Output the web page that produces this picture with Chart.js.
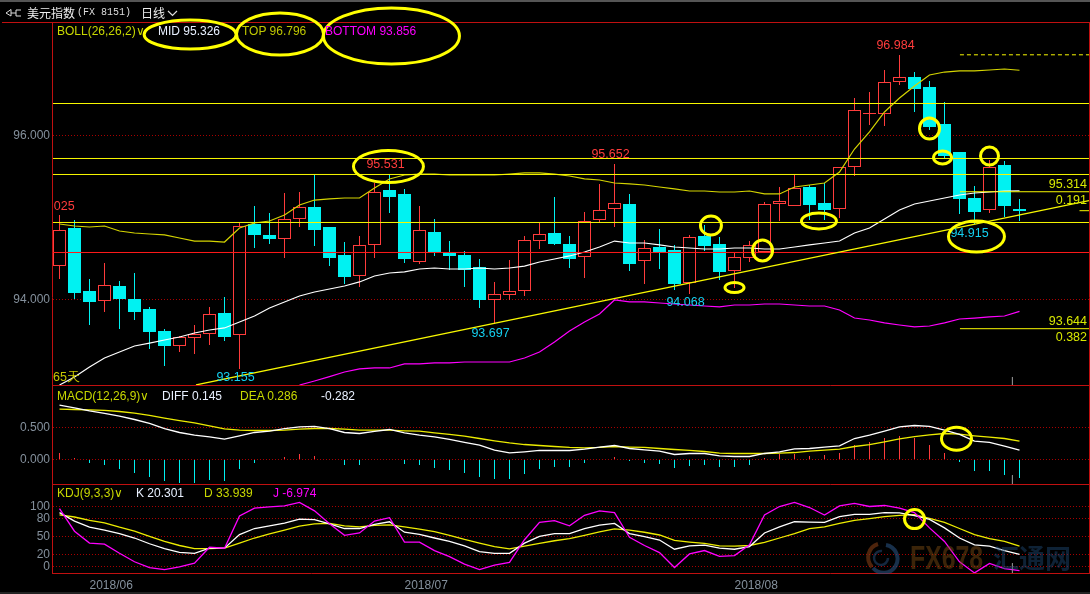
<!DOCTYPE html>
<html>
<head>
<meta charset="utf-8">
<title>美元指数</title>
<script src="https://cdn.jsdelivr.net/npm/chart.js@4/dist/chart.umd.min.js"></script>
<style>
html,body{margin:0;padding:0;background:#000;overflow:hidden}
#wrap{position:relative;width:1090px;height:594px;background:#000;overflow:hidden}
canvas{position:absolute;left:0;top:0}
.t{position:absolute;white-space:pre;font:12px/14px "Liberation Sans",Arial,sans-serif}
.wm{position:absolute;white-space:pre;font-weight:bold}
</style>
</head>
<body>
<div id="wrap">
<canvas id="c" width="1090" height="594"></canvas>
<div style="position:absolute;left:0;top:0;width:1090px;height:2px;background:#555"></div>
<div style="position:absolute;left:0;top:592px;width:1090px;height:2px;background:#222"></div>
<svg style="position:absolute;left:5px;top:8px" width="18" height="10"><path d="M1 5 L6 1.5 L6 8 Z M16 2 L11 2 L11 8 L16 8 M6 5 L11 5" fill="none" stroke="#ddd"/></svg>
<div class="t" style="left:27px;top:6px;color:#eee;font-family:'Noto Sans CJK SC'">美元指数</div>
<div class="t" style="left:77px;top:6px;color:#ddd;font-family:'Liberation Mono';font-size:10px">(FX 8151)</div>
<div class="t" style="left:141px;top:6px;color:#eee;font-family:'Noto Sans CJK SC'">日线</div>
<svg style="position:absolute;left:167px;top:10px" width="11" height="7"><path d="M1 1 L5.5 5.5 L10 1" fill="none" stroke="#ddd" stroke-width="1.2"/></svg>

<div class="t" style="left:57px;top:24px;color:#c8d800">BOLL(26,26,2)∨</div>
<div class="t" style="left:158px;top:24px;color:#e8f0ff">MID 95.326</div>
<div class="t" style="left:242px;top:24px;color:#c0c800">TOP 96.796</div>
<div class="t" style="left:325px;top:24px;color:#ff00ff">BOTTOM 93.856</div>

<div class="t" style="left:57px;top:389px;color:#c8d800">MACD(12,26,9)∨</div>
<div class="t" style="left:162px;top:389px;color:#e8f0ff">DIFF 0.145</div>
<div class="t" style="left:240px;top:389px;color:#c8d800">DEA 0.286</div>
<div class="t" style="left:321px;top:389px;color:#e8f0ff">-0.282</div>

<div class="t" style="left:57px;top:486px;color:#c8d800">KDJ(9,3,3)∨</div>
<div class="t" style="left:136px;top:486px;color:#e8f0ff">K 20.301</div>
<div class="t" style="left:204px;top:486px;color:#c8d800">D 33.939</div>
<div class="t" style="left:273px;top:486px;color:#ff00ff">J -6.974</div>

<div class="t" style="left:53px;top:370px;color:#c8c800;font-size:12.5px">65天</div>
<div class="t" style="right:3px;top:177px;color:#d8e800;font-size:12.5px">95.314</div>
<div class="t" style="right:3px;top:193px;color:#d8e800;font-size:12.5px">0.191</div>
<div class="t" style="right:3px;top:314px;color:#d8e800;font-size:12.5px">93.644</div>
<div class="t" style="right:3px;top:330px;color:#d8e800;font-size:12.5px">0.382</div>

<svg style="position:absolute;left:864px;top:542px" width="36" height="32"><path d="M22 3 A14 14 0 1 1 9 26" fill="none" stroke="rgba(40,80,125,.6)" stroke-width="4"/><path d="M14 2 A14 14 0 0 0 8 25" fill="none" stroke="rgba(130,60,20,.6)" stroke-width="4"/><path d="M18 9 A7 7 0 1 0 24 16" fill="none" stroke="rgba(40,80,125,.5)" stroke-width="2.5"/></svg>
<div class="wm" style="left:910px;top:538px;font:bold 34px/38px 'Liberation Sans';color:rgba(130,80,20,.45);transform:scaleX(.73);transform-origin:left top">FX678</div>
<div class="wm" style="left:993px;top:540px;font:bold 26px/34px 'Noto Sans CJK SC';color:rgba(30,75,120,.45)">汇通网</div>
</div>

<script>
// daily candles, 65 days
var opens = [94.412,94.876,94.104,93.985,94.165,94.006,93.884,93.616,93.437,93.534,93.583,93.836,93.571,94.921,94.787,94.741,94.985,95.128,94.884,94.543,94.287,94.668,95.335,95.287,94.461,94.823,94.567,94.543,94.396,93.998,94.059,94.108,94.717,94.811,94.677,94.515,94.973,95.107,95.165,94.473,94.640,94.604,94.201,94.774,94.677,94.351,94.510,94.579,95.168,95.144,95.372,95.177,95.107,95.612,96.262,96.259,96.656,96.713,96.591,96.140,95.799,95.238,95.091,95.640,95.104];
var closes = [94.844,94.079,93.969,94.173,94.006,93.848,93.604,93.433,93.539,93.579,93.820,93.543,94.893,94.787,94.738,94.978,95.124,94.848,94.506,94.274,94.665,95.307,95.250,94.494,94.844,94.579,94.531,94.360,93.994,94.064,94.100,94.722,94.795,94.677,94.494,94.954,95.088,95.173,94.433,94.624,94.579,94.189,94.759,94.652,94.335,94.515,94.661,95.161,95.198,95.356,95.152,95.091,95.612,96.307,96.271,96.649,96.710,96.567,96.104,95.750,95.226,95.067,95.612,95.140,95.079];
var highs = [95.025,94.970,94.250,94.445,94.226,94.323,93.909,93.640,93.555,93.689,93.909,94.031,94.933,95.140,95.055,95.299,95.311,95.518,94.884,94.701,94.774,95.421,95.531,95.348,95.140,94.982,94.713,94.592,94.494,94.213,94.482,94.774,94.933,95.250,94.774,95.067,95.409,95.652,95.287,94.726,94.860,94.665,94.787,94.909,94.762,94.571,94.713,95.189,95.372,95.518,95.396,95.421,95.616,96.457,96.530,96.799,96.984,96.774,96.665,96.409,95.799,95.384,95.701,95.689,95.226];
var lows = [94.250,94.006,93.689,93.848,93.640,93.750,93.396,93.189,93.360,93.336,93.445,93.494,93.155,94.628,94.677,94.506,94.888,94.652,94.409,94.189,94.153,94.506,95.055,94.445,94.433,94.531,94.360,94.153,93.896,93.697,93.994,94.046,94.616,94.665,94.384,94.262,94.937,94.884,94.348,94.189,94.372,94.116,94.068,94.592,94.238,94.140,94.457,94.567,94.957,95.144,94.970,94.970,94.994,95.506,96.128,96.116,96.616,96.287,96.067,95.726,95.043,94.915,95.055,95.006,94.957];

// BOLL(26,26,2)
var bollTop = [94.921,94.896,94.884,94.896,94.835,94.811,94.799,94.787,94.750,94.713,94.713,94.701,94.872,94.933,94.957,95.031,95.152,95.213,95.226,95.238,95.238,95.360,95.470,95.518,95.530,95.530,95.518,95.518,95.518,95.518,95.530,95.543,95.543,95.530,95.506,95.470,95.457,95.421,95.409,95.396,95.372,95.348,95.323,95.323,95.311,95.311,95.323,95.287,95.287,95.372,95.396,95.421,95.555,95.835,96.043,96.287,96.457,96.604,96.738,96.774,96.787,96.787,96.799,96.811,96.796];
var bollMid = [92.957,93.055,93.177,93.287,93.360,93.433,93.469,93.506,93.543,93.591,93.628,93.653,93.726,93.799,93.897,93.970,94.043,94.091,94.128,94.165,94.214,94.287,94.323,94.336,94.372,94.384,94.372,94.372,94.384,94.372,94.384,94.408,94.457,94.494,94.531,94.579,94.640,94.713,94.689,94.689,94.665,94.640,94.628,94.616,94.616,94.628,94.628,94.616,94.616,94.640,94.665,94.689,94.713,94.811,94.872,94.982,95.091,95.165,95.201,95.238,95.274,95.299,95.311,95.323,95.326];
var bollBottom = [null,null,null,null,null,null,null,null,null,null,null,null,null,null,null,null,92.957,93.006,93.059,93.116,93.153,93.165,93.165,93.214,93.214,93.226,93.226,93.238,93.238,93.238,93.238,93.287,93.360,93.482,93.616,93.726,93.823,93.994,93.970,93.970,93.957,93.945,93.933,93.921,93.909,93.933,93.933,93.945,93.945,93.933,93.921,93.921,93.872,93.774,93.750,93.714,93.689,93.665,93.677,93.714,93.762,93.774,93.787,93.799,93.856];

// MACD(12,26,9)
var macdDiff = [.849,.807,.760,.719,.677,.625,.563,.484,.422,.380,.354,.318,.370,.422,.443,.484,.510,.516,.484,.422,.406,.438,.469,.417,.380,.354,.313,.266,.224,.146,.104,.120,.141,.141,.141,.161,.193,.219,.172,.151,.130,.078,.094,.094,.057,.047,.047,.094,.120,.167,.172,.193,.214,.328,.380,.443,.510,.531,.516,.458,.391,.286,.266,.208,.145];
var macdDea = [.786,.781,.776,.766,.750,.724,.688,.646,.609,.573,.526,.479,.458,.453,.453,.458,.474,.484,.484,.474,.458,.458,.458,.448,.443,.417,.391,.365,.328,.292,.260,.234,.219,.203,.188,.182,.188,.203,.193,.188,.172,.156,.141,.125,.099,.094,.094,.094,.099,.109,.130,.146,.161,.203,.234,.276,.323,.359,.385,.406,.396,.370,.349,.328,.286];
var macdHist = [.094,.026,-.052,-.089,-.151,-.208,-.271,-.333,-.365,-.365,-.323,-.333,-.151,-.057,0,.036,.083,.057,0,-.083,-.089,-.005,.005,-.073,-.089,-.135,-.167,-.214,-.276,-.307,-.307,-.229,-.151,-.120,-.120,-.057,0,.036,-.026,-.057,-.073,-.135,-.104,-.089,-.120,-.120,-.089,.031,.083,.083,.052,.068,.109,.224,.271,.333,.365,.333,.224,.099,-.042,-.182,-.182,-.245,-.282];

// KDJ(9,3,3)
var kdjK = [89.8,75.7,65.5,60.5,54.8,47.5,37.9,29.9,23.7,22.0,30.5,30.5,53.1,63.3,67.8,72.3,79.1,78.0,71.2,63.3,63.3,70.1,74.6,57.1,53.7,47.5,41.8,34.5,24.9,22.0,22.0,39.0,50.3,54.8,54.8,63.3,68.9,71.8,54.8,49.7,44.1,28.8,34.5,35.6,30.5,28.8,33.3,55.9,66.1,74.6,74.0,73.5,83.1,87.0,87.0,89.8,89.3,84.8,78.5,64.4,47.5,36.2,33.9,26.6,20.3];
var kdjD = [85.9,82.5,76.8,72.9,65.5,58.8,50.3,41.8,35.0,29.9,29.9,30.5,39.0,47.5,54.2,60.5,67.2,71.2,71.8,67.8,66.1,68.4,69.5,66.1,62.2,58.2,52.0,45.2,39.0,33.3,29.4,33.9,38.4,42.9,46.3,52.0,57.6,62.7,60.5,57.1,52.5,43.5,40.7,38.4,34.5,33.9,35.0,40.1,47.5,54.8,63.3,66.1,71.8,76.8,79.7,83.1,85.3,86.4,80.2,73.5,63.3,53.1,46.3,41.8,33.9];
var kdjJ = [96.6,58.8,39.0,37.3,22.0,7.9,-1.7,-5.1,-0.6,5.7,32.2,30.5,84.2,97.2,99.4,101.1,106.8,92.7,71.2,52.0,55.9,75.7,81.4,40.7,40.7,26.6,16.4,4.0,-5.1,2.3,6.8,44.6,73.5,76.3,67.8,85.3,92.7,89.8,48.6,35.0,23.2,-1.7,20.9,26.6,17.0,18.1,36.2,85.9,100.0,106.8,98.3,85.9,101.1,105.1,100.0,101.7,97.2,89.8,64.4,41.8,7.9,-10.7,5.1,-3.4,-7.0];

// axis ticks
var priceTicks = [94, 96];
var macdTicks = [0, 0.5];
var kdjTicks = [0, 20, 50, 80, 100];
var monthTicks = [2, 23, 45];
var monthLabels = ["2018/06", "2018/07", "2018/08"];

// levels drawn by hand on the chart
var fullLevels = [96.3902, 95.7195, 95.5244, 94.9390];
var redLevel = 94.5732;
var fibDashed = 96.984, fibA = 95.314, fibB = 93.644, fibShort = 95.083;
var trendX = [9.1, 68.63], trendY = [92.9585, 95.206];
var cursorX = 63.53;

// high/low tags: candle index, "h" or "l", x shift in px
var tags = [[0,"h",-4],[22,"h",-4],[37,"h",-4],[56,"h",-4],[12,"l",-4],[29,"l",-4],[42,"l",-4],[61,"l",-5]];

// yellow rings: x in candles, y in the panel's own value
var rings = [
	[8.71,97.232,"y",46,14.5],[14.7,97.238,"y",43.5,21],[22.13,97.213,"y",68,28],[21.93,95.622,"y",35,16],
	[43.43,94.902,"y",10.5,9.5],[46.87,94.598,"y",10,10.5],[45.0,94.146,"y",9.5,5],[50.63,94.957,"y",17.5,8],
	[58.0,96.085,"y",10,10.5],[58.87,95.732,"y",9,6.5],[62.0,95.750,"y",9,9],[61.13,94.768,"y",28,15.5],
	[59.8,0.325,"yMacd",15,11.5],[57.0,79,"yKdj",10,9.5]
];

var RED = "#ff3c3c", CYAN = "#00f2f2", YELLOW = "#f8f800", GREY = "#84909c";
var X_MIN = -0.4333, X_MAX = 68.6333;

function xy(arr){
	return arr.map(function(v,i){ return {x:i,y:v}; });
}
function isUp(i){
	return closes[i] >= opens[i];
}
function line(data,color,axis,order,width){
	return {type:"line",data:data,borderColor:color,borderWidth:width||1,pointRadius:0,yAxisID:axis,order:order,tension:0};
}
function hline(v,from,to,color){
	return line([{x:from,y:v},{x:to,y:v}],color,"y",2);
}

var candleColors = opens.map(function(o,i){ return isUp(i) ? RED : CYAN; });

var datasets = [
	{type:"bar",data:highs.map(function(h,i){ return {x:i,y:[lows[i],h]}; }),backgroundColor:candleColors,barThickness:1,grouped:false,inflateAmount:0,yAxisID:"y",order:20},
	{type:"bar",data:opens.map(function(o,i){ return {x:i,y:[o,closes[i]]}; }),
		backgroundColor:opens.map(function(o,i){ return isUp(i) ? "#000" : CYAN; }),
		borderColor:candleColors,borderWidth:1,borderSkipped:false,barThickness:13,grouped:false,inflateAmount:0,yAxisID:"y",order:19},
	{type:"bar",data:xy(macdHist),backgroundColor:macdHist.map(function(v){ return v>=0 ? RED : CYAN; }),barThickness:1,grouped:false,inflateAmount:0,yAxisID:"yMacd",order:18},
	line(xy(bollBottom),"#ff00ff","y",5,1.2),
	line(xy(bollMid),"#ffffff","y",5,1.2),
	line(xy(bollTop),"#d4d400","y",5,1.2),
	line([{x:trendX[0],y:trendY[0]},{x:trendX[1],y:trendY[1]}],YELLOW,"y",2,1.3),
	line(xy(macdDea),"#ecec00","yMacd",5,1.3),
	line(xy(macdDiff),"#ffffff","yMacd",4,1.3),
	line(xy(kdjD),"#ecec00","yKdj",5,1.3),
	line(xy(kdjK),"#ffffff","yKdj",4,1.3),
	line(xy(kdjJ),"#ff00ff","yKdj",3,1.3),
	line([{x:cursorX,y:93.055},{x:cursorX,y:92.9}],"#888888","y",1),
	line([{x:cursorX,y:-0.245},{x:cursorX,y:-0.39}],"#888888","yMacd",1),
	line([{x:cursorX,y:5.6},{x:cursorX,y:-11}],"#888888","yKdj",1)
];
fullLevels.forEach(function(v){ datasets.push(hline(v,X_MIN,X_MAX,YELLOW)); });
datasets.push(hline(redLevel,X_MIN,X_MAX,"#ff1a1a"));
var dashed = hline(fibDashed,60.03,X_MAX,YELLOW);
dashed.borderDash = [4,3];
datasets.push(dashed);
datasets.push(hline(fibA,60.03,X_MAX,YELLOW));
datasets.push(hline(fibB,60.03,X_MAX,YELLOW));
datasets.push(hline(fibShort,68,X_MAX,YELLOW));

// panel frame, under the data; bars snapped to whole pixels so the edges stay hard
var framePlugin = {
	id:"frame",
	beforeDatasetsDraw:function(chart){
		var ctx = chart.ctx, a = chart.chartArea;
		ctx.save();
		ctx.strokeStyle = "#c01010";
		ctx.lineWidth = 1;
		ctx.beginPath();
		[chart.scales.y.top,chart.scales.yMacd.top,chart.scales.yKdj.top,a.bottom].forEach(function(y){
			ctx.moveTo(y==a.top ? 2 : a.left-1,Math.round(y)+0.5);
			ctx.lineTo(1090,Math.round(y)+0.5);
		});
		ctx.moveTo(a.left-0.5,a.top);
		ctx.lineTo(a.left-0.5,a.bottom);
		ctx.moveTo(1089.5,a.top);
		ctx.lineTo(1089.5,a.bottom);
		ctx.stroke();
		ctx.restore();
		[0,1,2].forEach(function(d){
			chart.getDatasetMeta(d).data.forEach(function(bar){
				bar.y = Math.round(bar.y);
				bar.base = Math.round(bar.base);
			});
		});
	}
};

// high/low tags and the yellow rings
var markPlugin = {
	id:"marks",
	afterDatasetsDraw:function(chart){
		var ctx = chart.ctx, a = chart.chartArea, sx = chart.scales.x;
		ctx.save();
		ctx.beginPath();
		ctx.rect(a.left,a.top,a.right-a.left,a.bottom-a.top);
		ctx.clip();
		ctx.font = "12.5px 'Liberation Sans'";
		ctx.textAlign = "center";
		ctx.textBaseline = "middle";
		tags.forEach(function(t){
			var hi = t[1]=="h";
			var v = hi ? highs[t[0]] : lows[t[0]];
			ctx.fillStyle = hi ? RED : "#14d0f0";
			ctx.fillText(v.toFixed(3),sx.getPixelForValue(t[0])+t[2],chart.scales.y.getPixelForValue(v)+(hi ? -9 : 9));
		});
		ctx.restore();
		ctx.save();
		ctx.strokeStyle = "#ffff00";
		ctx.lineWidth = 3;
		rings.forEach(function(r){
			ctx.beginPath();
			ctx.ellipse(sx.getPixelForValue(r[0]),chart.scales[r[2]].getPixelForValue(r[1]),r[3],r[4],0,0,Math.PI*2);
			ctx.stroke();
		});
		ctx.restore();
	}
};

function yScale(min,max,weight,ticks,order,fmt){
	return {
		type:"linear",position:"left",stack:"panels",stackWeight:weight,weight:order,min:min,max:max,
		afterFit:function(s){ s.width = 53; },
		afterBuildTicks:function(s){ s.ticks = ticks.map(function(v){ return {value:v}; }); },
		grid:{color:"#a80000",lineWidth:1,drawTicks:false},
		border:{display:false,dash:[1,2]},
		ticks:{color:GREY,padding:3,autoSkip:false,font:{family:"Liberation Sans",size:12},callback:fmt}
	};
}
function price(v){ return Number(v).toFixed(3); }

new Chart(document.getElementById("c"),{
	data:{datasets:datasets},
	plugins:[framePlugin,markPlugin],
	options:{
		responsive:false,
		animation:false,
		devicePixelRatio:1,
		layout:{padding:{top:22,right:1,left:0,bottom:0}},
		plugins:{legend:{display:false},tooltip:{enabled:false}},
		scales:{
			x:{
				type:"linear",min:X_MIN,max:X_MAX,offset:false,
				afterFit:function(s){ s.height = 21; },
				afterBuildTicks:function(s){ s.ticks = monthTicks.map(function(v){ return {value:v}; }); },
				grid:{display:false,drawTicks:false,offset:false},
				border:{display:false},
				ticks:{color:GREY,align:"start",padding:5,maxRotation:0,autoSkip:false,font:{family:"Liberation Sans",size:12},
					callback:function(v){ return monthLabels[monthTicks.indexOf(v)]; }}
			},
			y:yScale(92.9573,97.3841,363,priceTicks,3,price),
			yMacd:yScale(-0.3828,1.164,99,macdTicks,2,price),
			yKdj:yScale(-10.83,137.5,89,kdjTicks,1,function(v){ return String(v); })
		}
	}
});
</script>
</body>
</html>
